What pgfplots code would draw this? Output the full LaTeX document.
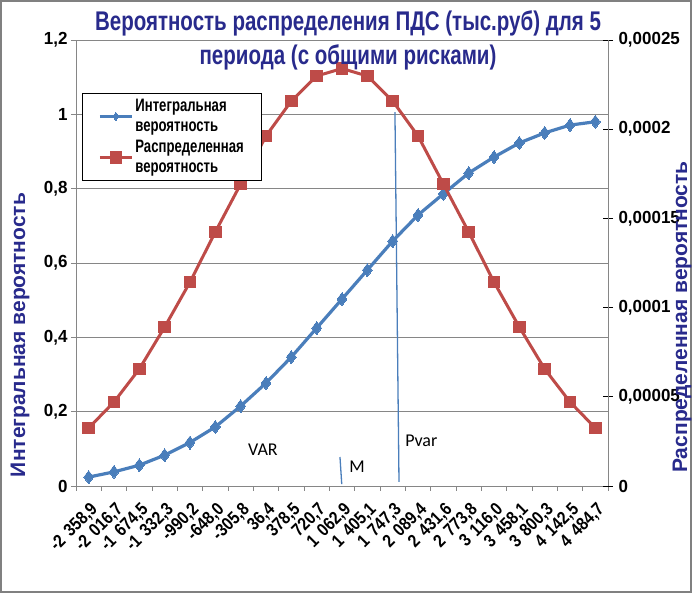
\documentclass[border=0pt]{standalone}
\usepackage{pgfplots}
\pgfplotsset{compat=1.18}
\usepackage{pgfplotstable}
\usepackage{fontspec}
\setmainfont{Liberation Sans}
\newfontfamily\narrow[FakeStretch=0.97]{Liberation Sans}
\newfontfamily\xnarrow[FakeStretch=0.86, WordSpace=1.4]{Liberation Sans}
\newfontfamily\titlefont[FakeStretch=0.76]{Liberation Sans}
\newfontfamily\legfont[FakeStretch=0.73]{Liberation Sans}
\newfontfamily\calib{Carlito}
\definecolor{ttl}{RGB}{40,42,140}
\definecolor{bl}{RGB}{74,126,187}
\definecolor{rd}{RGB}{190,75,72}
\definecolor{gr}{RGB}{134,134,134}

\pgfplotstableread{
i cum den
0  0.024 0.0000325
1  0.038 0.0000471
2  0.056 0.0000656
3  0.083 0.0000891
4  0.117 0.0001143
5  0.159 0.0001424
6  0.215 0.0001693
7  0.277 0.0001962
8  0.347 0.0002158
9  0.425 0.0002298
10 0.503 0.0002340
11 0.581 0.0002298
12 0.659 0.0002158
13 0.729 0.0001962
14 0.786 0.0001693
15 0.842 0.0001424
16 0.885 0.0001143
17 0.923 0.0000891
18 0.950 0.0000656
19 0.971 0.0000471
20 0.980 0.0000325
}\data

\pgfplotsset{
  blstyle/.style={color=bl, line width=3.2pt, mark=diamond*, mark size=6.5pt, mark options={solid, line width=0pt, fill=bl}},
  rdstyle/.style={color=rd, line width=3pt, mark=square*, mark size=5.8pt, mark options={solid, line width=0pt, fill=rd}},
  tickfont/.style={font=\narrow\bfseries\fontsize{17.5}{17.5}\selectfont},
}

\begin{document}
\begin{tikzpicture}[x=1pt,y=1pt]
\useasboundingbox (-76,-107) rectangle (616,486);
\fill[white] (-76,-107) rectangle (616,486);
\draw[gray, line width=2pt] (-75,-106) rectangle (615,485);

\begin{axis}[
  at={(0,0)}, anchor=south west,
  width=532pt, height=446pt, scale only axis,
  xmin=-0.5, xmax=20.5, ymin=0, ymax=1.2,
  xtick={0,...,20},
  xticklabels={{-2 358,9},{-2 016,7},{-1 674,5},{-1 332,3},{-990,2},{-648,0},{-305,8},{36,4},{378,5},{720,7},{1 062,9},{1 405,1},{1 747,3},{2 089,4},{2 431,6},{2 773,8},{3 116,0},{3 458,1},{3 800,3},{4 142,5},{4 484,7}},
  minor xtick={-0.5,0.5,...,20.5},
  major x tick style={draw=none},
  minor x tick style={draw=gr, line width=0.75pt},
  minor tick length=5pt,
  ytick={0,0.2,0.4,0.6,0.8,1,1.2},
  yticklabels={0,{0,2},{0,4},{0,6},{0,8},1,{1,2}},
  ymajorgrids, grid style={gr, line width=0.75pt},
  axis x line*=bottom, axis y line*=left,
  axis line style={gr, line width=0.75pt},
  y tick style={draw=gr, line width=0.75pt},
  tick align=outside, major tick length=5pt,
  yticklabel style={tickfont},
  xticklabel style={font=\xnarrow\bfseries\fontsize{18}{18}\selectfont, xshift=7pt, yshift=-15pt, rotate=45, anchor=east, inner sep=1pt},
  clip=false,
]
\addplot[blstyle] table[x=i, y=cum]{\data};
\addplot[bl, line width=1.3pt] coordinates {(12.09,1.006) (12.25,0.011)};
\addplot[bl, line width=1.3pt] coordinates {(9.92,0.078) (9.99,0.005)};
\node[font=\calib\fontsize{18}{18}\selectfont] at (axis cs:6.88,0.097) {VAR};
\node[font=\calib\fontsize{18}{18}\selectfont] at (axis cs:10.59,0.051) {M};
\node[font=\calib\fontsize{18}{18}\selectfont, anchor=west, inner sep=0pt] at (axis cs:12.49,0.121) {Pvar};
\end{axis}

\begin{axis}[
  at={(0,0)}, anchor=south west,
  width=532pt, height=446pt, scale only axis,
  xmin=-0.5, xmax=20.5, ymin=0, ymax=0.00025,
  scaled y ticks=false,
  axis x line=none, axis y line*=right,
  axis line style={gr, line width=0.75pt},
  ytick={0,0.00005,0.0001,0.00015,0.0002,0.00025},
  yticklabels={0,{0,00005},{0,0001},{0,00015},{0,0002},{0,00025}},
  y tick style={draw=black, line width=0.75pt},
  tick align=center, major tick length=10pt,
  yticklabel style={tickfont, xshift=2pt},
  legend style={at={(axis description cs:0.0113,0.881)}, anchor=north west,
    draw=black, line width=0.75pt, fill=white,
    font=\legfont\bfseries\fontsize{18}{20}\selectfont,
    cells={align=left, anchor=west}, inner xsep=16pt, inner ysep=4pt,
    row sep=3pt},
  legend image code/.code={\draw[mark repeat=2, mark phase=2, #1] plot coordinates {(0pt,0pt) (16pt,0pt) (32pt,0pt)};},
  legend entries={{Интегральная\\вероятность},{Распределенная\\вероятность}},
]
\addlegendimage{color=bl, line width=3pt, mark=diamond*, mark size=4pt, mark options={solid, line width=0pt, fill=bl}}
\addplot[rdstyle] table[x=i, y=den]{\data};
\end{axis}

\node[text=ttl, font=\titlefont\bfseries\fontsize{27}{27}\selectfont, anchor=base] at (272,455) {Вероятность распределения ПДС (тыс.руб) для 5};
\node[text=ttl, font=\titlefont\bfseries\fontsize{27}{27}\selectfont, anchor=base] at (272,421) {периода (с общими рисками)};
\node[text=ttl, font=\bfseries\fontsize{21}{21}\selectfont, rotate=90] at (-56,151) {Интегральная вероятность};
\node[text=ttl, font=\bfseries\fontsize{21}{21}\selectfont, rotate=90] at (606,169) {Распределенная вероятность};
\end{tikzpicture}
\end{document}
